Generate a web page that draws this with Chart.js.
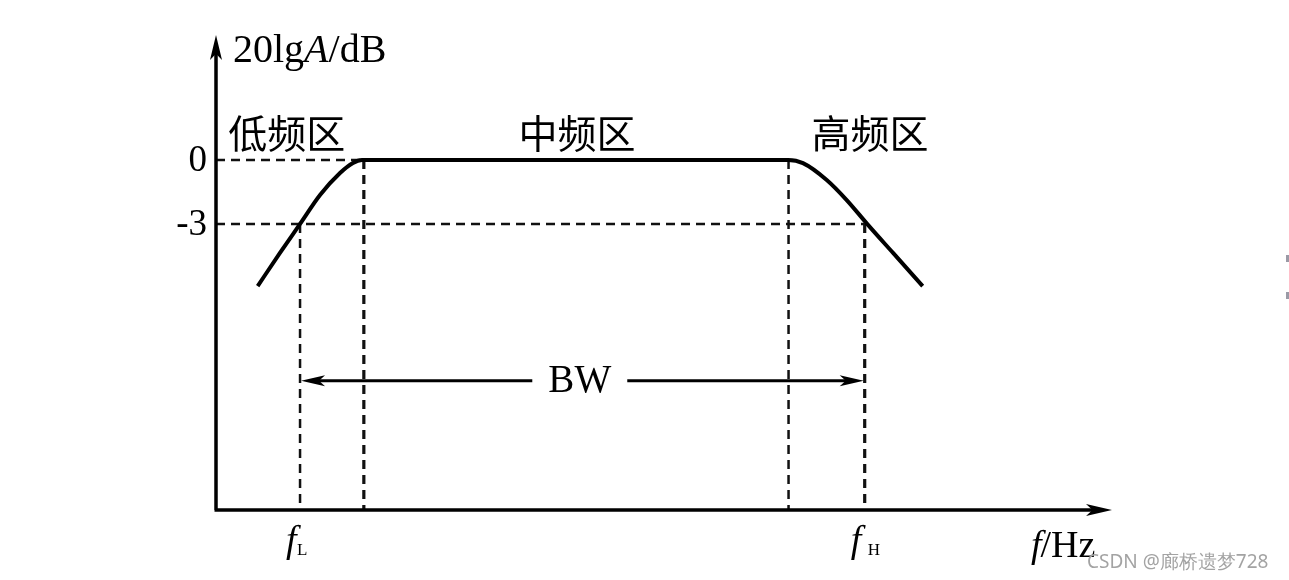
<!DOCTYPE html>
<html lang="zh">
<head>
<meta charset="UTF-8">
<title>频率响应 BW</title>
<script src="https://cdn.jsdelivr.net/npm/chart.js"></script>
<style>
  body { margin: 0; padding: 0; background: #ffffff; }
  canvas { display: block; }
</style>
</head>
<body>
<canvas id="bodeChart" width="1289" height="580"></canvas>
<script>
// Datos (x en unidades arbitrarias de frecuencia, y en dB)
const curveX = [4.65, 7.14, 9.38, 11.61, 13.84, 15.29, 16.29, 63.87, 65.51, 68.16, 70.39, 72.62, 75.59, 78.87];
const curveY = [-5.91, -4.36, -3.0, -1.64, -0.61, -0.14, 0, 0, -0.15, -0.94, -1.88, -2.97, -4.37, -5.91];

const fL = 9.38;       // -3 dB, lado bajo
const fMidLow = 16.5;  // inicio de la zona plana
const fMidHigh = 63.9; // fin de la zona plana
const fH = 72.4;       // -3 dB, lado alto

const tickValues = [0, -3];
const tickLabels = ['0', '-3'];
const regionLabels = ['低频区', '中频区', '高频区'];
const regionX = [7.9, 40.3, 73.0];

const xMin = 0, xMax = 100;
const yMin = -16.41, yMax = 5.86;
const bwY = -10.35;

function seg(x1, y1, x2, y2) {
  return [{ x: x1, y: y1 }, { x: x2, y: y2 }];
}

const dashStyle = {
  borderColor: '#111',
  borderWidth: 2.5,
  borderDash: [9, 6],
  pointRadius: 0,
  showLine: true,
  fill: false
};

const datasets = [
  {
    label: 'curva',
    data: curveX.map((x, i) => ({ x: x, y: curveY[i] })),
    borderColor: '#000',
    borderWidth: 4,
    pointRadius: 0,
    showLine: true,
    cubicInterpolationMode: 'monotone',
    fill: false
  },
  Object.assign({ data: seg(xMin, 0, fMidLow, 0) }, dashStyle),
  Object.assign({ data: seg(xMin, -3, fH, -3) }, dashStyle),
  Object.assign({ data: seg(fL, -3, fL, yMin) }, dashStyle),
  Object.assign({ data: seg(fMidLow, 0, fMidLow, yMin) }, dashStyle, { borderWidth: 3.2 }),
  Object.assign({ data: seg(fMidHigh, 0, fMidHigh, yMin) }, dashStyle),
  Object.assign({ data: seg(fH, -3, fH, yMin) }, dashStyle, { borderWidth: 3.2 }),
  // linea BW (dos tramos alrededor del texto)
  { data: seg(fL + 1.5, bwY, 35.3, bwY), borderColor: '#000', borderWidth: 3, pointRadius: 0, showLine: true },
  { data: seg(45.9, bwY, fH - 1.5, bwY), borderColor: '#000', borderWidth: 3, pointRadius: 0, showLine: true }
];

function arrowHead(ctx, tipX, tipY, dirX, dirY, len, half) {
  const bx = tipX - dirX * len, by = tipY - dirY * len;
  const nx = -dirY, ny = dirX;
  ctx.beginPath();
  ctx.moveTo(tipX, tipY);
  ctx.lineTo(bx + nx * half, by + ny * half);
  ctx.lineTo(tipX - dirX * len * 0.75, tipY - dirY * len * 0.75);
  ctx.lineTo(bx - nx * half, by - ny * half);
  ctx.closePath();
  ctx.fill();
}

const decoPlugin = {
  id: 'deco',
  afterDatasetsDraw(chart) {
    const ctx = chart.ctx;
    const xs = chart.scales.x, ys = chart.scales.y;
    const a = chart.chartArea;
    const ox = xs.getPixelForValue(xMin);
    const oy = ys.getPixelForValue(yMin);
    ctx.save();
    ctx.fillStyle = '#000';
    ctx.strokeStyle = '#000';

    // ejes
    ctx.lineWidth = 3.5;
    ctx.beginPath();
    ctx.moveTo(ox, oy);
    ctx.lineTo(ox, a.top + 12);
    ctx.moveTo(ox - 1.5, oy);
    ctx.lineTo(a.right - 12, oy);
    ctx.stroke();
    arrowHead(ctx, ox, a.top, 0, -1, 25, 6);
    arrowHead(ctx, a.right, oy, 1, 0, 26, 6);

    // flechas BW
    const by = ys.getPixelForValue(bwY);
    arrowHead(ctx, xs.getPixelForValue(fL) + 1, by, -1, 0, 24, 5.5);
    arrowHead(ctx, xs.getPixelForValue(fH) - 1, by, 1, 0, 24, 5.5);

    const serif = '"Liberation Serif", "Times New Roman", serif';

    // BW
    ctx.font = '39px ' + serif;
    ctx.textAlign = 'center';
    ctx.textBaseline = 'middle';
    ctx.fillText('BW', (xs.getPixelForValue(35.3) + xs.getPixelForValue(45.9)) / 2, by + 1);

    // etiquetas del eje y
    ctx.font = '37px ' + serif;
    ctx.textAlign = 'right';
    tickValues.forEach((v, i) => {
      ctx.fillText(tickLabels[i], ox - 9, ys.getPixelForValue(v) + 1);
    });

    // regiones
    ctx.font = '39px "Noto Sans CJK SC", sans-serif';
    ctx.textAlign = 'center';
    regionLabels.forEach((t, i) => {
      ctx.fillText(t, xs.getPixelForValue(regionX[i]), ys.getPixelForValue(0) - 27);
    });

    // titulo del eje y: 20lgA/dB
    ctx.textAlign = 'left';
    ctx.textBaseline = 'alphabetic';
    let tx = ox + 17;
    const tyb = a.top + 27;
    ctx.font = '40px ' + serif;
    ctx.fillText('20lg', tx, tyb);
    tx += ctx.measureText('20lg').width;
    ctx.font = 'italic 40px ' + serif;
    ctx.fillText('A', tx, tyb);
    tx += ctx.measureText('A').width;
    ctx.font = '40px ' + serif;
    ctx.fillText('/dB', tx, tyb);

    // fL y fH
    function subLabel(xv, sub, subDx) {
      const px = xs.getPixelForValue(xv);
      ctx.font = 'italic 38px ' + serif;
      ctx.textAlign = 'left';
      ctx.fillText('f', px - 14, oy + 42);
      ctx.font = '17px ' + serif;
      ctx.fillText(sub, px + subDx, oy + 45);
    }
    subLabel(fL, 'L', -3);
    subLabel(fH, 'H', 3);

    // f/Hz
    ctx.font = 'italic 38px ' + serif;
    let hx = 1031;
    ctx.fillText('f', hx, oy + 47);
    hx += ctx.measureText('f').width;
    ctx.font = '38px ' + serif;
    ctx.fillText('/Hz', hx - 1, oy + 47);

    // marca de agua
    ctx.font = '19px "Noto Sans", "DejaVu Sans", sans-serif';
    ctx.fillStyle = '#a3a3a3';
    ctx.textAlign = 'left';
    ctx.fillText('CSDN @廊桥遗梦728', 1087, 568);

    // pequeñas marcas en el borde derecho
    ctx.fillStyle = '#9a9aa6';
    ctx.fillRect(1286, 255, 3, 7);
    ctx.fillRect(1286, 292, 3, 7);

    ctx.restore();
  }
};

new Chart(document.getElementById('bodeChart').getContext('2d'), {
  type: 'scatter',
  data: { datasets: datasets },
  options: {
    responsive: false,
    animation: false,
    layout: { padding: { left: 216, right: 177, top: 35, bottom: 70 } },
    plugins: { legend: { display: false }, tooltip: { enabled: false } },
    scales: {
      x: { type: 'linear', min: xMin, max: xMax, display: false },
      y: { type: 'linear', min: yMin, max: yMax, display: false }
    }
  },
  plugins: [decoPlugin]
});
</script>
</body>
</html>
